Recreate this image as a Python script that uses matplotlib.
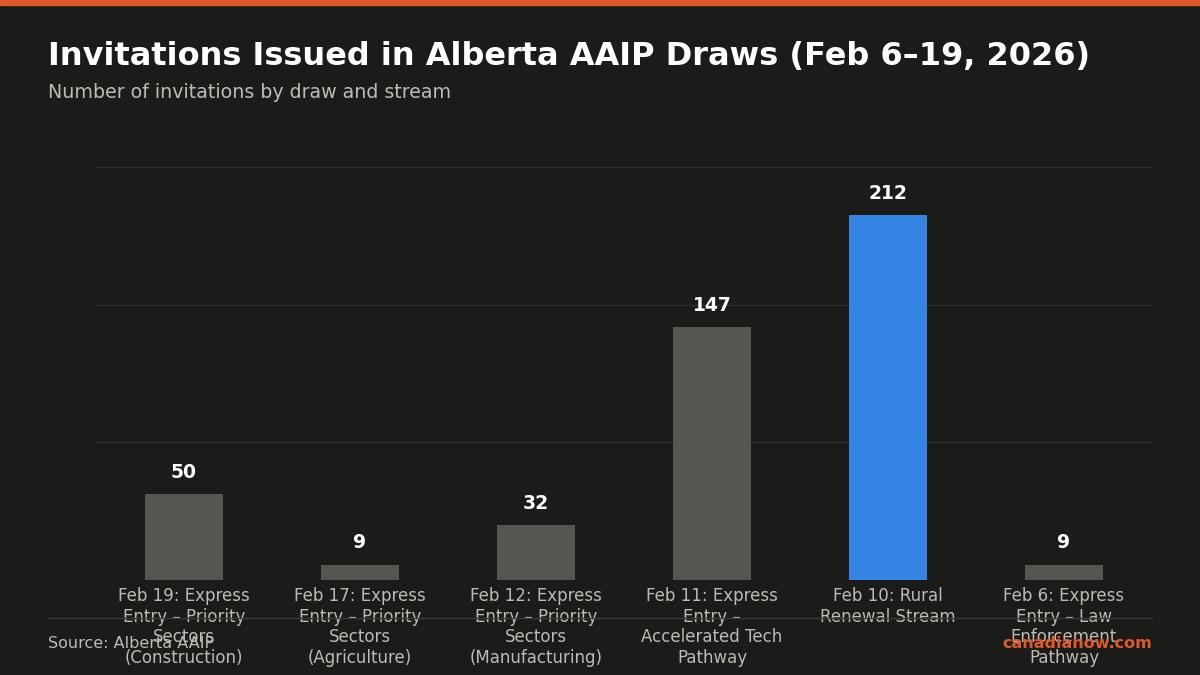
import matplotlib.pyplot as plt
from matplotlib.lines import Line2D
from matplotlib.patches import Rectangle

plt.rcParams['font.family'] = ['DejaVu Sans']

# data
draws = [
    "Feb 19: Express\nEntry – Priority\nSectors\n(Construction)",
    "Feb 17: Express\nEntry – Priority\nSectors\n(Agriculture)",
    "Feb 12: Express\nEntry – Priority\nSectors\n(Manufacturing)",
    "Feb 11: Express\nEntry –\nAccelerated Tech\nPathway",
    "Feb 10: Rural\nRenewal Stream",
    "Feb 6: Express\nEntry – Law\nEnforcement\nPathway",
]
invitations = [50, 9, 32, 147, 212, 9]
highlight = 4

bg = "#1b1b19"
grey_bar = "#57554f"
blue_bar = "#3584e4"
text_col = "#bdbbb3"

fig = plt.figure(figsize=(12, 6.75), dpi=100, facecolor=bg)
ax = fig.add_axes([96 / 1200, 1 - 580 / 675, 1056 / 1200, (580 - 167) / 675])
ax.set_facecolor(bg)

colors = [blue_bar if i == highlight else grey_bar for i in range(len(invitations))]
xs = range(len(invitations))
ax.bar(xs, invitations, width=0.44, color=colors, zorder=3)

for x, v in zip(xs, invitations):
    ax.text(x, v + 7, str(v), ha="center", va="bottom", color="white",
            fontsize=13.5, fontweight="bold")

ax.set_xlim(-0.5, len(invitations) - 0.5)
ax.set_ylim(0, 240)
ax.set_yticks([0, 80, 160, 240])
ax.yaxis.grid(True, color="#2f2f2c", linewidth=1, zorder=0)
ax.tick_params(axis="y", left=False, labelleft=False)
ax.tick_params(axis="x", length=0, pad=5)
ax.set_xticks(list(xs))
ax.set_xticklabels(draws, color=text_col, fontsize=12, linespacing=1.19)
for s in ax.spines.values():
    s.set_visible(False)

# header / footer
fig.patches.append(Rectangle((0, 1 - 5 / 675), 1, 5 / 675, transform=fig.transFigure,
                             color="#e0592a", zorder=5))
fig.text(48 / 1200, 1 - 57 / 675, "Invitations Issued in Alberta AAIP Draws (Feb 6–19, 2026)",
         color="white", fontsize=23, fontweight="bold", va="center")
fig.text(48 / 1200, 1 - 92 / 675, "Number of invitations by draw and stream",
         color=text_col, fontsize=13.7, va="center")
fig.lines.append(Line2D([48 / 1200, 1152 / 1200], [1 - 618 / 675] * 2,
                        transform=fig.transFigure, color="#3a3a37", linewidth=1))
fig.text(48 / 1200, 1 - 644 / 675, "Source: Alberta AAIP", color=text_col,
         fontsize=11.5, va="center")
fig.text(1152 / 1200, 1 - 644 / 675, "canadianow.com", color="#e0592a",
         fontsize=11.5, fontweight="bold", va="center", ha="right")

fig.savefig("out.png", dpi=100, facecolor=bg)
